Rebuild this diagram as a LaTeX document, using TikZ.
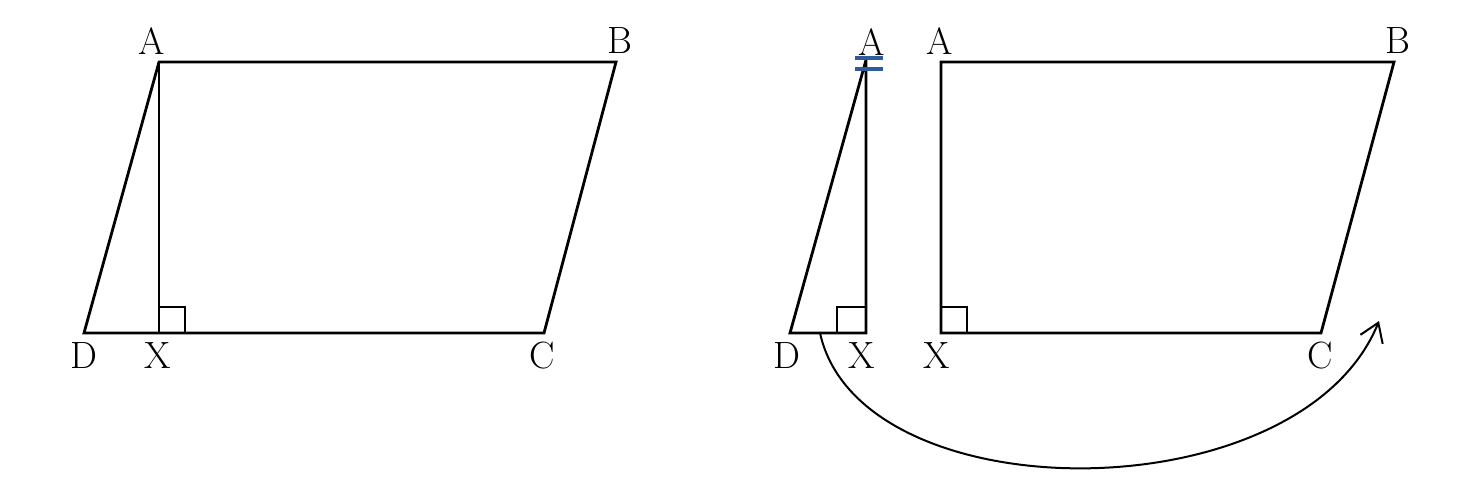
\documentclass[tikz,border=0pt]{standalone}
\usetikzlibrary{arrows.meta}
\definecolor{tickblue}{HTML}{2F5A9E}
\begin{document}
\begin{tikzpicture}[x=0.5pt,y=-0.5pt,
  edge/.style={line width=1.4pt, line join=miter},
  lbl/.style={inner sep=0pt, font=\fontsize{19}{22}\selectfont},
  ra/.style={line width=1.4pt},
  tick/.style={line width=2pt, draw=tickblue},
  moveto/.style={line width=1pt, -{Straight Barb[length=9pt,width=12pt,line width=1pt]}}]
\useasboundingbox (0,0) rectangle (1460,489);
% left parallelogram
\coordinate (lA) at (159,62);
\coordinate (lB) at (616,62);
\coordinate (lC) at (544,333);
\coordinate (lD) at (84,333);
\coordinate (lX) at (159,333);
\draw[edge] (lA) -- (lB) -- (lC) -- (lD) -- cycle;
\draw[edge] (lA) -- (lX);
\draw[ra] (159,307) -- (185,307) -- (185,333);
\node[lbl] (tlA) at (152,41) {A};
\node[lbl] (tlB) at (620,41) {B};
\node[lbl] (tlD) at (84,356) {D};
\node[lbl] (tlX) at (158,356) {X};
\node[lbl] (tlC) at (542,356) {C};
% right: triangle piece
\coordinate (tA) at (866,60);
\coordinate (tD) at (790,333);
\coordinate (tX) at (866,333);
\draw[edge] (tA) -- (tD) -- (tX) -- (866,57);
\draw[ra] (837,333) -- (837,307) -- (866,307);
\node[lbl] (ttA) at (872,42) {A};
\coordinate (t1a) at (855,58); \coordinate (t1b) at (883,58);
\coordinate (t2a) at (855,69); \coordinate (t2b) at (883,69);
\draw[tick] (t1a) -- (t1b);
\draw[tick] (t2a) -- (t2b);
\node[lbl] (ttD) at (787,356) {D};
\node[lbl] (ttX) at (862,356) {X};
% right: trapezium piece
\coordinate (rA) at (941,62);
\coordinate (rB) at (1394,62);
\coordinate (rC) at (1321,333);
\coordinate (rX) at (941,333);
\draw[edge] (rA) -- (rB) -- (rC) -- (rX) -- cycle;
\draw[ra] (941,307) -- (967,307) -- (967,333);
\node[lbl] (trA) at (940,41) {A};
\node[lbl] (trB) at (1398,41) {B};
\node[lbl] (trX) at (937,356) {X};
\node[lbl] (trC) at (1320,356) {C};
% curved arrow
\coordinate (cs) at (820,333);
\coordinate (ce) at (1379,321);
\draw[moveto] (cs) .. controls (860,515) and (1300,515) .. (ce);
\end{tikzpicture}
\end{document}
